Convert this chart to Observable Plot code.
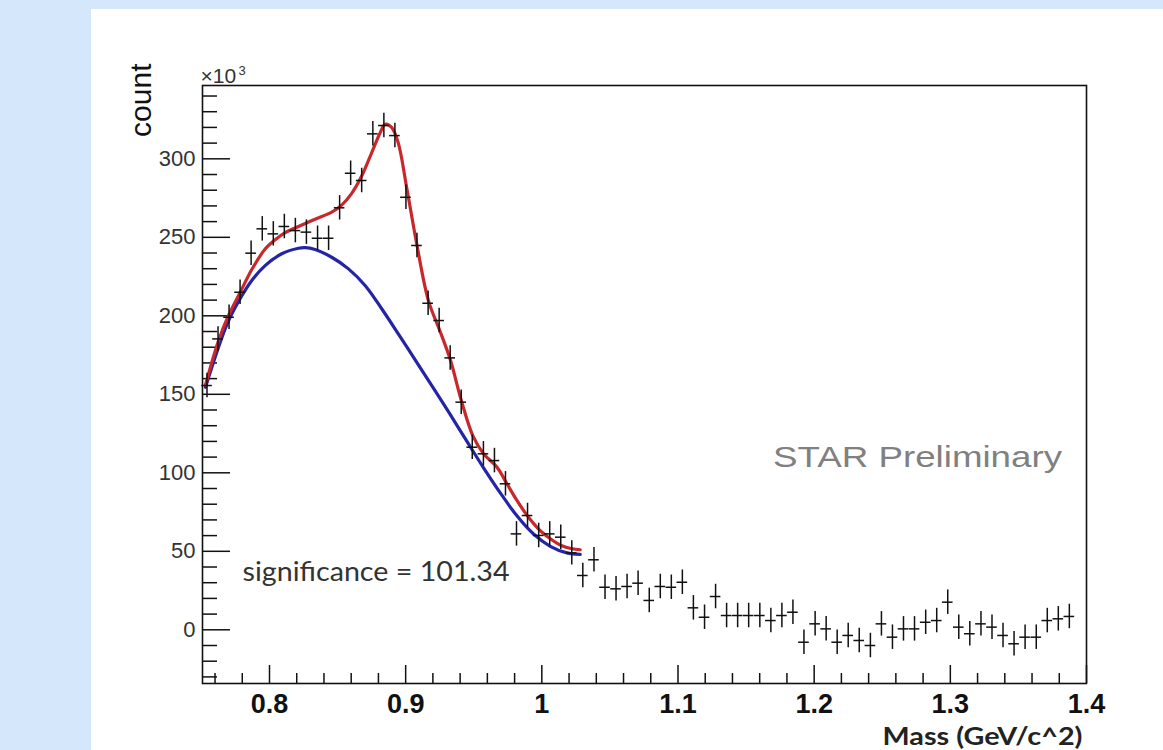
<!DOCTYPE html>
<html><head><meta charset="utf-8">
<script src="https://cdn.jsdelivr.net/npm/d3@7"></script>
<script src="https://cdn.jsdelivr.net/npm/@observablehq/plot@0.6"></script>
<style>
html,body{margin:0;padding:0;}
body{width:1163px;height:750px;background:#d5e7fb;position:relative;overflow:hidden;font-family:"Liberation Sans",Arial,sans-serif;}
#panel{position:absolute;left:91px;top:9px;right:0;bottom:0;background:#fff;}
#chart{position:absolute;left:0;top:0;}
</style></head><body><div id="panel"></div><div id="chart"></div>
<script>
// Histogram bin centres (GeV/c^2)
const mass = [0.7541,0.7622,0.7703,0.7784,0.7865,0.7947,0.8028,0.8109,0.8190,0.8271,
  0.8353,0.8434,0.8515,0.8596,0.8677,0.8759,0.8840,0.8921,0.9002,0.9083,
  0.9165,0.9246,0.9327,0.9408,0.9489,0.9571,0.9652,0.9733,0.9814,0.9895,
  0.9977,1.0058,1.0139,1.0220,1.0301,1.0383,1.0464,1.0545,1.0626,1.0707,
  1.0789,1.0870,1.0951,1.1032,1.1113,1.1195,1.1276,1.1357,1.1438,1.1519,
  1.1601,1.1682,1.1763,1.1844,1.1925,1.2007,1.2088,1.2169,1.2250,1.2331,
  1.2413,1.2494,1.2575,1.2656,1.2737,1.2819,1.2900,1.2981,1.3062,1.3143,
  1.3225,1.3306,1.3387,1.3468,1.3549,1.3631,1.3712,1.3793,1.3874];
// Counts (x10^3)
const counts = [155.6,185.3,199.1,215,239.9,255.4,252.2,256.9,254.3,253.3,
  249.4,249.4,268.8,290.8,286.2,315.9,321.2,314.8,275.5,244.8,
  208,197,173.2,145,116.3,112.1,107.8,93,61.1,72.8,
  60.1,61.1,59,49,34.6,44.6,27.1,26.1,27.6,29.7,
  18.7,27.6,27.1,30.3,14,8,21.2,9.1,9.1,9.1,
  9.1,5.9,9.1,11.2,-7.9,3.8,0.6,-7.9,-3.6,-6.8,
  -10,3.8,-4.7,0.6,0.6,4.8,5.9,17.6,1.7,-2.5,
  3.8,1.7,-3.6,-8.9,-4.7,-4.7,5.9,7,8.5];
const errorHalf = 7.8;      // vertical error (x10^3)
const binHalf = 0.0039;     // half bin width (GeV/c^2)

// Total fit (red)
const fitMass = [0.7530,0.7626,0.7699,0.7785,0.7870,0.7968,0.8042,0.8115,0.8213,0.8335,
  0.8457,0.8530,0.8604,0.8677,0.8751,0.8812,0.8849,0.8897,0.8946,0.9007,
  0.9081,0.9167,0.9249,0.9328,0.9409,0.9494,0.9572,0.9671,0.9744,0.9817,
  0.9902,0.9988,1.0062,1.0142,1.0221,1.0282];
const fitCount = [156,184.3,200.2,215,229.5,242.5,248.5,253,256.9,261.5,
  266,270.5,278,289,304,316.5,322,320,310,281.9,
  245.9,209.7,191,172,146,123.5,112.1,103.6,93,82.4,
  71.7,63.2,58,53.7,51.6,51];
// Background (blue)
const bgMass = [0.7530,0.7690,0.7785,0.7870,0.7968,0.8090,0.8213,0.8262,0.8335,0.8457,
  0.8580,0.8702,0.8824,0.8946,0.9084,0.9205,0.9328,0.9450,0.9572,0.9695,
  0.9817,0.9939,1.0062,1.0184,1.0282];
const bgCount = [154.5,195,211,222.5,232,239.5,243,243.4,242.2,237.3,
  229.9,219.3,204.5,188.5,170,153.8,137,120,103.2,87.2,
  72.6,61,53.2,49,48];

const xMajor = [0.8,0.9,1.0,1.1,1.2,1.3,1.4];
const xTickLabels = ["0.8","0.9","1","1.1","1.2","1.3","1.4"];
const xMinor = d3.range(38,71).filter(k => k % 5 !== 0).map(k => k/50);
const yMajor = [0,50,100,150,200,250,300];
const yTickLabels = ["0","50","100","150","200","250","300"];
const yMinor = d3.range(-3,35).filter(k => k % 5 !== 0).map(k => k*10);

const points = mass.map((m,i) => ({m, c: counts[i]}));
const fit = fitMass.map((m,i) => ({m, c: fitCount[i]}));
const bg = bgMass.map((m,i) => ({m, c: bgCount[i]}));

const W = 1163, H = 750, mL = 202, mR = 77, mT = 85, mB = 67;
const innerW = W - mL - mR, innerH = H - mT - mB;
const font = "Liberation Sans, Arial, sans-serif";

const svg = Plot.plot({
  width: W, height: H,
  marginLeft: mL, marginRight: mR, marginTop: mT, marginBottom: mB,
  style: {background: "transparent", overflow: "visible"},
  x: {domain: [0.7508, 1.4]},
  y: {domain: [-34.2, 346.7]},
  marks: [
    // ticks pointing inward
    Plot.tickY(yMajor, {y: d => d, insetRight: innerW - 28, stroke: "#111", strokeWidth: 1.5}),
    Plot.tickY(yMinor, {y: d => d, insetRight: innerW - 15, stroke: "#111", strokeWidth: 1.5}),
    Plot.tickX(xMajor, {x: d => d, insetTop: innerH - 18, stroke: "#111", strokeWidth: 1.5}),
    Plot.tickX(xMinor, {x: d => d, insetTop: innerH - 10, stroke: "#111", strokeWidth: 1.5}),
    Plot.axisY(yMajor, {tickSize: 0, tickPadding: 7, fontSize: 22, fill: "#333", fontFamily: font,
      tickFormat: d => yTickLabels[yMajor.indexOf(d)], label: null}),
    Plot.axisX(xMajor, {tickSize: 0, tickPadding: 10, fontSize: 27, fontWeight: "bold", fill: "#111", fontFamily: font,
      tickFormat: d => xTickLabels[xMajor.indexOf(d)], label: null}),
    Plot.frame({stroke: "#111", strokeWidth: 1.6}),
    // fits
    Plot.line(bg, {x: "m", y: "c", stroke: "#2424a6", strokeWidth: 3.2, curve: "catmull-rom"}),
    Plot.line(fit, {x: "m", y: "c", stroke: "#c8282c", strokeWidth: 3.2, curve: "catmull-rom"}),
    // data crosses
    Plot.ruleX(points, {x: "m", y1: d => d.c - errorHalf, y2: d => d.c + errorHalf, stroke: "#111", strokeWidth: 1.5}),
    Plot.ruleY(points, {y: "c", x1: d => d.m - binHalf, x2: d => d.m + binHalf, stroke: "#111", strokeWidth: 1.5}),
    // annotations
    Plot.text(["significance = 101.34"], {x: 0.7802, y: 30.8, textAnchor: "start", lineAnchor: "bottom",
      fontSize: 27, fontFamily: "Lato, sans-serif", fill: "#333", className: "sig"}),
    Plot.text(["STAR Preliminary"], {x: 1.1698, y: 103.4, textAnchor: "start", lineAnchor: "bottom",
      fontSize: 29, fontFamily: font, fill: "#808080", className: "star"}),
    Plot.text(["Mass (GeV/c^2)"], {frameAnchor: "bottom-right", dx: -4, dy: 61, textAnchor: "end", lineAnchor: "bottom",
      fontSize: 25, fontWeight: "bold", fontFamily: "Lato, sans-serif", fill: "#222", className: "xlab"}),
    Plot.text(["count"], {frameAnchor: "top-left", dx: -52, dy: -22, rotate: -90, textAnchor: "end", lineAnchor: "bottom",
      fontSize: 30, fontFamily: font, fill: "#111"}),
    Plot.text(["×10"], {frameAnchor: "top-left", dx: -2, dy: -3, textAnchor: "start", lineAnchor: "bottom",
      fontSize: 21, fontFamily: font, fill: "#333"}),
    Plot.text(["3"], {frameAnchor: "top-left", dx: 36, dy: -11, textAnchor: "start", lineAnchor: "bottom",
      fontSize: 13, fontFamily: font, fill: "#333"})
  ]
});
document.getElementById("chart").appendChild(svg);
const fitLen = (cls, len) => d3.select(svg).selectAll(`g.${cls} text`).attr("textLength", len).attr("lengthAdjust", "spacingAndGlyphs");
fitLen("sig", 267);
fitLen("star", 289);
fitLen("xlab", 200);
</script>
</body></html>
